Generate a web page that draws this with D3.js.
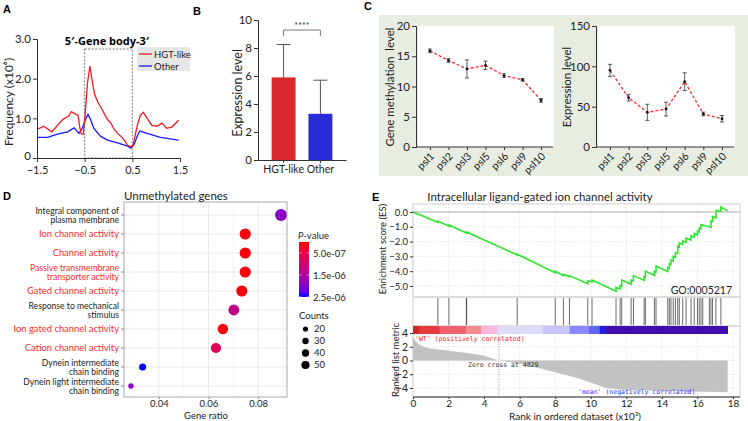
<!DOCTYPE html>
<html><head><meta charset="utf-8">
<script src="https://cdn.jsdelivr.net/npm/d3@7"></script>
<style>
body{margin:0;background:#fff;}
svg{display:block;font-family:Lato,"Open Sans",sans-serif;}
.plab{font-family:"Liberation Sans",Arial,sans-serif;font-weight:bold;font-size:11px;}
</style></head><body><div id="fig"></div>
<script>
// ---------- data ----------
// A: metagene profile, position and frequency (x10^6)
var aRedPos = [-1.5,-1.36,-1.19,-1.05,-0.95,-0.84,-0.78,-0.71,-0.64,-0.60,-0.57,-0.53,-0.49,-0.44,-0.39,-0.35,-0.29,-0.22,-0.16,-0.09,-0.02,0.05,0.12,0.19,0.26,0.33,0.40,0.47,0.52,0.60,0.67,0.73,0.81,0.91,1.02,1.12,1.22,1.33,1.47];
var aRedVal = [0.72,0.80,0.66,0.85,0.98,1.05,1.17,1.12,1.08,0.75,0.60,0.60,1.10,1.90,2.32,2.00,1.60,1.40,1.28,1.12,0.97,0.88,0.72,0.62,0.55,0.45,0.32,0.28,0.35,0.80,1.08,1.15,1.00,0.82,0.80,0.88,0.75,0.78,0.95];
var aBluePos = [-1.5,-1.28,-1.07,-0.86,-0.72,-0.62,-0.55,-0.48,-0.43,-0.38,-0.31,-0.17,-0.02,0.19,0.40,0.47,0.54,0.62,0.66,0.81,1.09,1.47];
var aBlueVal = [0.52,0.52,0.60,0.66,0.76,0.62,0.75,0.98,1.10,0.98,0.75,0.55,0.45,0.38,0.30,0.25,0.35,0.60,0.68,0.62,0.52,0.45];
var aXTicks = [-1.5,-0.5,0.5,1.5];
var aYTicks = [0,1,2,3];

// B: expression level
var bCats = ["HGT-like","Other"];
var bMean = [5.9,3.3];
var bSD = [2.35,2.4];

// C: psl lines
var cCats = ["psl1","psl2","psl3","psl5","psl6","psl9","psl10"];
var cMeth = [15.9,14.3,12.9,13.5,11.8,11.1,7.7];
var cMethErr = [0.3,0.3,1.5,0.7,0.3,0.2,0.3];
var cExpr = [95,61,43,47,81,41,35];
var cExprErr = [7.5,4,10,8.5,11,2.3,4];

// D: GO enrichment, unmethylated genes
var dTerms = ["Integral component of\nplasma membrane","Ion channel activity","Channel activity","Passive transmembrane\ntransporter activity","Gated channel activity","Response to mechanical\nstimulus","Ion gated channel activity","Cation channel activity","Dynein intermediate\nchain binding","Dynein light intermediate\nchain binding"];
var dRatio = [0.0892,0.0748,0.0748,0.0748,0.0734,0.0702,0.0658,0.0630,0.0335,0.0288];
var dPval = [1.9e-6,5e-8,5e-8,5e-8,5e-8,1.25e-6,4e-8,7.5e-7,2.5e-6,1.9e-6];
var dCount = [55,48,48,48,47,45,42,40,19,11];
var dChannelTerms = ["Ion channel activity","Channel activity","Passive transmembrane\ntransporter activity","Gated channel activity","Ion gated channel activity","Cation channel activity"];
var dPLegend = [5e-7,1.5e-6,2.5e-6];
var dCountLegend = [20,30,40,50];

// E: GSEA
var eRank = [0,1.40,1.40,2.02,2.02,3.0,3.01,5.86,5.86,8.0,8.0,8.46,8.46,8.8,8.8,9.83,9.83,10.07,10.07,11.42,11.42,11.65,11.65,11.74,11.74,12.27,12.27,12.4,12.4,13.0,13.0,13.07,13.07,13.58,13.58,13.67,13.67,14.33,14.33,14.42,14.42,14.51,14.51,14.64,14.64,14.76,14.76,14.89,14.89,14.98,14.98,15.17,15.17,15.36,15.36,15.64,15.64,15.82,15.82,16.0,16.0,16.1,16.1,16.2,16.2,16.76,16.76,16.85,16.85,17.04,17.04,17.32,17.32,17.7];
var eES = [0,-0.70,-0.62,-0.95,-0.88,-1.42,-1.35,-2.90,-2.85,-4.10,-4.00,-4.30,-4.20,-4.38,-4.30,-4.85,-4.65,-4.72,-4.60,-5.35,-5.10,-5.20,-4.95,-5.00,-4.60,-4.88,-4.60,-4.65,-4.30,-4.62,-4.35,-4.38,-4.00,-4.28,-4.00,-4.05,-3.65,-4.02,-3.75,-3.80,-3.50,-3.55,-3.25,-3.32,-3.00,-3.05,-2.75,-2.80,-2.30,-2.35,-2.10,-2.20,-1.95,-2.05,-1.75,-1.90,-1.60,-1.70,-1.45,-1.55,-1.30,-1.35,-1.10,-1.15,-0.85,-1.05,-0.60,-0.65,-0.30,-0.40,0.10,0.05,0.35,0.08];
var eHits = [1.40,2.02,3.0,3.02,5.86,8.0,8.46,8.8,9.83,10.07,11.42,11.65,11.74,12.27,12.4,13.0,13.07,13.58,13.67,14.33,14.42,14.51,14.64,14.76,14.89,14.98,15.17,15.36,15.64,15.82,16.0,16.1,16.2,16.3,16.67,16.76,16.85,17.04,17.32];
var eMetricRank = [0,0.1,0.3,0.6,1.0,2.0,3.0,3.9,4.829,6.0,7.0,8.0,9.2,10.3,10.85,11.8,14,17.7];
var eMetricVal = [3.5,3.0,2.4,2.0,1.75,1.43,1.1,0.76,0,-0.48,-1.05,-1.7,-2.5,-3.5,-4.0,-4.25,-4.4,-4.6];
var eZeroCross = 4.829;
var eXTicks = [0,2,4,6,8,10,12,14,16,18];
var eESTicks = [0,-1,-2,-3,-4,-5];
var eMetricTicks = [4,2,0,-2,-4];
// colour strip of the ranked list (segment starts, thousand ranks)
var eStripStart = [0,0.37,1.5,3.0,3.84,4.78,7.3,8.8,9.9,10.5,10.86];
var eStripColor = ["#d42323","#e83a3e","#f0606e","#f58c8c","#fbb8dc","#dcdcf8","#c6c6f8","#8a8aff","#6464f2","#2020e0","#3f0cb0"];
var eStripEnd = 17.7;

// ---------- figure ----------
var svg = d3.select("#fig").append("svg").attr("width",748).attr("height",421);

function styleAxis(g, size){
  g.selectAll("text").attr("font-size",size).attr("fill","#222").attr("font-family","Lato, sans-serif");
  g.selectAll("line,path").attr("stroke","#333");
}

// ===== A =====
svg.append("text").attr("class","plab").attr("x",3).attr("y",13).text("A");
var xA = d3.scaleLinear().domain([-1.5,1.5]).range([37,180]);
var yA = d3.scaleLinear().domain([0,3]).range([158,39]);
var gA = svg.append("g");
gA.append("rect").attr("x",xA(-0.5)).attr("y",49).attr("width",xA(0.5)-xA(-0.5)).attr("height",yA(0)-49)
  .attr("fill","none").attr("stroke","#555").attr("stroke-dasharray","2,1.5").attr("stroke-width",0.8);
var lineA = d3.line().x(d=>xA(d[0])).y(d=>yA(d[1]));
gA.append("path").datum(d3.zip(aBluePos,aBlueVal)).attr("d",lineA).attr("fill","none").attr("stroke","#1a1aff").attr("stroke-width",1.3);
gA.append("path").datum(d3.zip(aRedPos,aRedVal)).attr("d",lineA).attr("fill","none").attr("stroke","#ee1c24").attr("stroke-width",1.3);
var axA = gA.append("g").attr("transform","translate(0,158)").call(d3.axisBottom(xA).tickValues(aXTicks).tickSize(4).tickPadding(4).tickFormat(d3.format(".1f")));
styleAxis(axA,11);
var ayA = gA.append("g").attr("transform","translate(37,0)").call(d3.axisLeft(yA).tickValues(aYTicks).tickSize(4).tickPadding(2).tickFormat(d=>d===0?"0":d.toFixed(1)));
styleAxis(ayA,11.5);
ayA.selectAll(".tick text").filter(d=>d===0).attr("dy","0.1em");
gA.append("text").attr("transform","translate(13,102) rotate(-90)").attr("text-anchor","middle").attr("font-size",12).attr("fill","#222").text("Frequency (x10\u2076)");
gA.append("text").attr("x",107).attr("y",45).attr("text-anchor","middle").attr("font-size",11).attr("font-weight","bold").attr("font-family","'Open Sans',sans-serif").text("5\u2032-Gene body-3\u2032");
gA.append("rect").attr("x",137).attr("y",47).attr("width",53).attr("height",24).attr("fill","#e6e6e6");
[["HGT-like","#ee1c24"],["Other","#1a1aff"]].forEach(function(d,i){
  var y = 54 + i*12;
  gA.append("line").attr("x1",139).attr("x2",152).attr("y1",y).attr("y2",y).attr("stroke",d[1]).attr("stroke-width",1.3);
  gA.append("text").attr("x",154).attr("y",y+3.5).attr("font-size",9.5).attr("fill","#222").text(d[0]);
});

// ===== B =====
svg.append("text").attr("class","plab").attr("x",193).attr("y",15).text("B");
var yB = d3.scaleLinear().domain([0,10]).range([160,20]);
var xB = d3.scaleBand().domain(bCats).range([258,346]).paddingInner(0.35).paddingOuter(0.37);
var gB = svg.append("g");
var bColor = d3.scaleOrdinal().domain(bCats).range(["#d9282e","#2b2bd8"]);
bCats.forEach(function(c,i){
  var cx = xB(c)+xB.bandwidth()/2;
  gB.append("line").attr("x1",cx).attr("x2",cx).attr("y1",yB(bMean[i])).attr("y2",yB(bMean[i]+bSD[i])).attr("stroke","#555").attr("stroke-width",1);
  gB.append("line").attr("x1",cx-7).attr("x2",cx+7).attr("y1",yB(bMean[i]+bSD[i])).attr("y2",yB(bMean[i]+bSD[i])).attr("stroke","#555").attr("stroke-width",1);
  gB.append("rect").attr("x",xB(c)).attr("y",yB(bMean[i])).attr("width",xB.bandwidth()).attr("height",yB(0)-yB(bMean[i])).attr("fill",bColor(c));
});
var bx1 = xB(bCats[0])+xB.bandwidth()/2, bx2 = xB(bCats[1])+xB.bandwidth()/2;
gB.append("path").attr("d","M"+bx1+",36V30H"+bx2+"V36").attr("fill","none").attr("stroke","#555").attr("stroke-width",0.8);
gB.append("text").attr("x",(bx1+bx2)/2).attr("y",29).attr("text-anchor","middle").attr("font-size",9).attr("fill","#333").text("****");
var axB = gB.append("g").attr("transform","translate(0,160)").call(d3.axisBottom(xB).tickSize(3).tickPadding(3).tickSizeOuter(0));
styleAxis(axB,10.5);
var ayB = gB.append("g").attr("transform","translate(258,0)").call(d3.axisLeft(yB).tickValues([0,2,4,6,8,10]).tickSize(4).tickPadding(2));
styleAxis(ayB,11.5);
gB.append("text").attr("transform","translate(242,93) rotate(-90)").attr("text-anchor","middle").attr("font-size",12.5).attr("fill","#222").text("Expression level");

// ===== C =====
svg.append("text").attr("class","plab").attr("x",364).attr("y",10).text("C");
svg.append("rect").attr("x",379).attr("y",15).attr("width",369).attr("height",161).attr("fill","#e8ede2");
function psPanel(x0,x1,yMax,yTicks,vals,errs,label,labX){
  var x = d3.scalePoint().domain(cCats).range([x0,x1]).padding(0.75);
  var y = d3.scaleLinear().domain([0,yMax]).range([147,26]);
  var g = svg.append("g");
  g.append("rect").attr("x",x0+2).attr("y",26).attr("width",x1-x0-3).attr("height",121).attr("fill","#fff");
  var ay = g.append("g").attr("transform","translate("+x0+",0)").call(d3.axisLeft(y).tickValues(yTicks).tickSize(4).tickPadding(2));
  styleAxis(ay,11.5);
  var ax = g.append("g").attr("transform","translate(0,147)").call(d3.axisBottom(x).tickSize(3).tickFormat(""));
  styleAxis(ax,11);
  ax.select(".domain").attr("d","M"+x0+",0H"+(x1-2));
  g.selectAll(".xl").data(cCats).enter().append("text")
    .attr("transform",d=>"translate("+(x(d)+5)+",157) rotate(-45)")
    .attr("text-anchor","end").attr("font-size",10.5).attr("fill","#222").text(d=>d);
  var pts = cCats.map((c,i)=>[x(c),y(vals[i])]);
  g.append("path").datum(pts).attr("d",d3.line()).attr("fill","none").attr("stroke","#ff2a2a").attr("stroke-width",1.3).attr("stroke-dasharray","3,2");
  cCats.forEach(function(c,i){
    var cx = x(c);
    g.append("line").attr("x1",cx).attr("x2",cx).attr("y1",y(vals[i]-errs[i])).attr("y2",y(vals[i]+errs[i])).attr("stroke","#333").attr("stroke-width",0.8);
    [vals[i]-errs[i],vals[i]+errs[i]].forEach(v=>g.append("line").attr("x1",cx-2).attr("x2",cx+2).attr("y1",y(v)).attr("y2",y(v)).attr("stroke","#333").attr("stroke-width",0.8));
    g.append("circle").attr("cx",cx).attr("cy",y(vals[i])).attr("r",1.4).attr("fill","#111");
  });
  g.append("text").attr("transform","translate("+labX+",87) rotate(-90)").attr("text-anchor","middle").attr("font-size",11.5).attr("fill","#222").attr("xml:space","preserve").text(label);
}
psPanel(416,555,20,[0,5,10,15,20],cMeth,cMethErr,"Gene methylation  level",394);
psPanel(596,736,150,[0,50,100,150],cExpr,cExprErr,"Expression level",571);

// ===== D =====
svg.append("text").attr("class","plab").attr("x",3).attr("y",200).text("D");
var xD = d3.scaleLinear().domain([0.026,0.0916]).range([124,287]);
var yD = d3.scalePoint().domain(dTerms).range([215,386]);
var colD = d3.scaleLinear().domain([0,2.5e-6]).range(["#ff0000","#0000ff"]).interpolate(d3.interpolateLab);
var rD = d3.scaleSqrt().domain([0,55]).range([0,6]);
var gD = svg.append("g");
gD.append("rect").attr("x",124).attr("y",202).attr("width",163).attr("height",195).attr("fill","#fff");
[0.03,0.05,0.07,0.09].forEach(v=>gD.append("line").attr("x1",xD(v)).attr("x2",xD(v)).attr("y1",202).attr("y2",397).attr("stroke","#f3f3f3").attr("stroke-width",0.6));
[0.04,0.06,0.08].forEach(v=>gD.append("line").attr("x1",xD(v)).attr("x2",xD(v)).attr("y1",202).attr("y2",397).attr("stroke","#e8e8e8").attr("stroke-width",1));
dTerms.forEach(t=>gD.append("line").attr("x1",124).attr("x2",287).attr("y1",yD(t)).attr("y2",yD(t)).attr("stroke","#e8e8e8").attr("stroke-width",1));
gD.selectAll(".dot").data(dTerms).enter().append("circle")
  .attr("cx",(t,i)=>xD(dRatio[i])).attr("cy",t=>yD(t)).attr("r",(t,i)=>rD(dCount[i])).attr("fill",(t,i)=>colD(dPval[i]));
gD.append("rect").attr("x",124).attr("y",202).attr("width",163).attr("height",195).attr("fill","none").attr("stroke","#aaa").attr("stroke-width",1);
dTerms.forEach(function(t){
  var lines = t.split("\n"), y0 = yD(t);
  gD.append("line").attr("x1",121).attr("x2",124).attr("y1",y0).attr("y2",y0).attr("stroke","#888");
  lines.forEach(function(l,j){
    gD.append("text").attr("text-anchor","end").attr("font-size",lines.length>1?8.6:9.4)
      .attr("fill",dChannelTerms.indexOf(t)>=0?"#ff2a2a":"#222")
      .attr("x",119).attr("y",y0+3.1+(j-(lines.length-1)/2)*9.2).text(l);
  });
});
var axD = gD.append("g").attr("transform","translate(0,397)").call(d3.axisBottom(xD).tickValues([0.04,0.06,0.08]).tickSize(2).tickPadding(1).tickFormat(d3.format(".2f")));
styleAxis(axD,9.5);
axD.select(".domain").remove();
axD.selectAll("line").attr("stroke","#888");
gD.append("text").attr("x",206).attr("y",419).attr("text-anchor","middle").attr("font-size",9.5).attr("fill","#222").text("Gene ratio");
gD.append("text").attr("x",124).attr("y",200).attr("font-size",11.5).attr("fill","#222").text("Unmethylated genes");
// legend: p-value
var defs = svg.append("defs");
var grad = defs.append("linearGradient").attr("id","pgrad").attr("x1",0).attr("x2",0).attr("y1",0).attr("y2",1);
d3.range(0,1.01,0.1).forEach(f=>grad.append("stop").attr("offset",f).attr("stop-color",colD(f*2.5e-6)));
var pLeg = d3.scaleLinear().domain([0,2.5e-6]).range([242,297]);
var ptitle = gD.append("text").attr("x",298).attr("y",239).attr("font-size",9.5).attr("fill","#222");
ptitle.append("tspan").attr("font-style","italic").text("P");
ptitle.append("tspan").text("-value");
gD.append("rect").attr("x",299).attr("y",242).attr("width",10).attr("height",55).attr("fill","url(#pgrad)");
dPLegend.forEach(function(v){
  gD.append("line").attr("x1",299).attr("x2",301.5).attr("y1",pLeg(v)).attr("y2",pLeg(v)).attr("stroke","#fff").attr("stroke-width",0.6);
  gD.append("line").attr("x1",306.5).attr("x2",309).attr("y1",pLeg(v)).attr("y2",pLeg(v)).attr("stroke","#fff").attr("stroke-width",0.6);
  gD.append("text").attr("x",313).attr("y",pLeg(v)+3.5).attr("font-size",9.5).attr("fill","#222").text(d3.format(".1e")(v).replace("e-","e-0"));
});
gD.append("text").attr("x",299).attr("y",318.5).attr("font-size",9.5).attr("fill","#222").text("Counts");
dCountLegend.forEach(function(c,i){
  var y = 329 + i*12;
  gD.append("circle").attr("cx",305.5).attr("cy",y).attr("r",rD(c)*0.72).attr("fill","#000");
  gD.append("text").attr("x",314).attr("y",y+3.3).attr("font-size",9.5).attr("fill","#222").text(c);
});

// ===== E =====
svg.append("text").attr("class","plab").attr("x",372).attr("y",201).text("E");
var xE = d3.scaleLinear().domain([0,18]).range([413,733]);
var xRight = 740;
var yES = d3.scaleLinear().domain([-5,0]).range([286,212]);
var yM = d3.scaleLinear().domain([-4,4]).range([388,333]);
var gE = svg.append("g");
gE.append("text").attr("x",540).attr("y",201).attr("text-anchor","middle").attr("font-size",11.5).attr("fill","#222").text("Intracellular ligand-gated ion channel activity");
// grids
eXTicks.forEach(function(v){
  gE.append("line").attr("x1",xE(v)).attr("x2",xE(v)).attr("y1",204).attr("y2",297).attr("stroke","#dcdcdc").attr("stroke-dasharray","1.5,1.5").attr("stroke-width",0.7);
  gE.append("line").attr("x1",xE(v)).attr("x2",xE(v)).attr("y1",334).attr("y2",397).attr("stroke","#dcdcdc").attr("stroke-dasharray","1.5,1.5").attr("stroke-width",0.7);
});
eESTicks.forEach(v=>gE.append("line").attr("x1",413).attr("x2",xRight).attr("y1",yES(v)).attr("y2",yES(v)).attr("stroke",v===0?"#c8c8c8":"#dcdcdc").attr("stroke-dasharray",v===0?null:"1.5,1.5").attr("stroke-width",v===0?1.5:0.7));
eMetricTicks.forEach(v=>gE.append("line").attr("x1",413).attr("x2",xRight).attr("y1",yM(v)).attr("y2",yM(v)).attr("stroke","#dcdcdc").attr("stroke-dasharray","1.5,1.5").attr("stroke-width",0.7));
// frames
gE.append("rect").attr("x",413).attr("y",204).attr("width",xRight-413).attr("height",93).attr("fill","none").attr("stroke","#d0d0d0");
gE.append("rect").attr("x",413).attr("y",297).attr("width",xRight-413).attr("height",29).attr("fill","none").attr("stroke","#d0d0d0");
gE.append("rect").attr("x",413).attr("y",326).attr("width",xRight-413).attr("height",71).attr("fill","none").attr("stroke","#d0d0d0");
// ES curve
gE.append("path").datum(d3.zip(eRank,eES)).attr("d",d3.line().x(d=>xE(d[0])).y(d=>yES(d[1])))
  .attr("fill","none").attr("stroke","#2ee62e").attr("stroke-width",1.6);
gE.append("text").attr("x",732).attr("y",294).attr("text-anchor","end").attr("font-size",10.5).attr("fill","#222").text("GO:0005217");
// hits
gE.selectAll(".hit").data(eHits).enter().append("line").attr("x1",d=>xE(d)).attr("x2",d=>xE(d)).attr("y1",298).attr("y2",325).attr("stroke","#444").attr("stroke-width",0.8);
// colour strip
eStripStart.forEach(function(s,i){
  var e = i<eStripStart.length-1?eStripStart[i+1]:eStripEnd;
  gE.append("rect").attr("x",xE(s)).attr("y",326).attr("width",xE(e)-xE(s)+0.3).attr("height",8).attr("fill",eStripColor[i]);
});
// ranked metric
gE.append("path").datum(d3.zip(eMetricRank,eMetricVal)).attr("d",d3.area().x(d=>xE(d[0])).y0(yM(0)).y1(d=>yM(d[1])))
  .attr("fill","#c2c2c2");
gE.append("line").attr("x1",xE(eZeroCross)).attr("x2",xE(eZeroCross)).attr("y1",334).attr("y2",397).attr("stroke","#999").attr("stroke-dasharray","1,1.5");
gE.append("text").attr("x",468).attr("y",367).attr("font-size",6.5).attr("font-family","'DejaVu Sans Mono',monospace").attr("fill","#333").text("Zero cross at "+Math.round(eZeroCross*1000));
gE.append("text").attr("x",415).attr("y",340.5).attr("font-size",6.5).attr("font-family","'DejaVu Sans Mono',monospace").attr("fill","#ff2020").text("'WT' (positively correlated)");
gE.append("text").attr("x",578).attr("y",394).attr("font-size",6.5).attr("font-family","'DejaVu Sans Mono',monospace").attr("fill","#3030ff").text("'mean' (negatively correlated)");
// axes
var axE = gE.append("g").attr("transform","translate(0,397)").call(d3.axisBottom(xE).tickValues(eXTicks).tickSize(2).tickPadding(1));
styleAxis(axE,10);
axE.select(".domain").attr("d","M413,0H"+xRight);
var ayES = gE.append("g").attr("transform","translate(413,0)").call(d3.axisLeft(yES).tickValues(eESTicks).tickSize(3).tickPadding(2).tickFormat(d3.format(".1f")));
styleAxis(ayES,9.5);
ayES.select(".domain").remove();
var ayM = gE.append("g").attr("transform","translate(413,0)").call(d3.axisLeft(yM).tickValues(eMetricTicks).tickSize(3).tickPadding(2));
styleAxis(ayM,10.5);
ayM.select(".domain").remove();
gE.append("text").attr("transform","translate(386,249) rotate(-90)").attr("text-anchor","middle").attr("font-size",9.5).attr("fill","#222").text("Enrichment score (ES)");
gE.append("text").attr("transform","translate(399,360) rotate(-90)").attr("text-anchor","middle").attr("font-size",9.5).attr("fill","#222").text("Ranked list metric");
gE.append("text").attr("x",575).attr("y",419.5).attr("text-anchor","middle").attr("font-size",10).attr("fill","#222").text("Rank in ordered dataset (x10\u00b3)");
</script></body></html>
